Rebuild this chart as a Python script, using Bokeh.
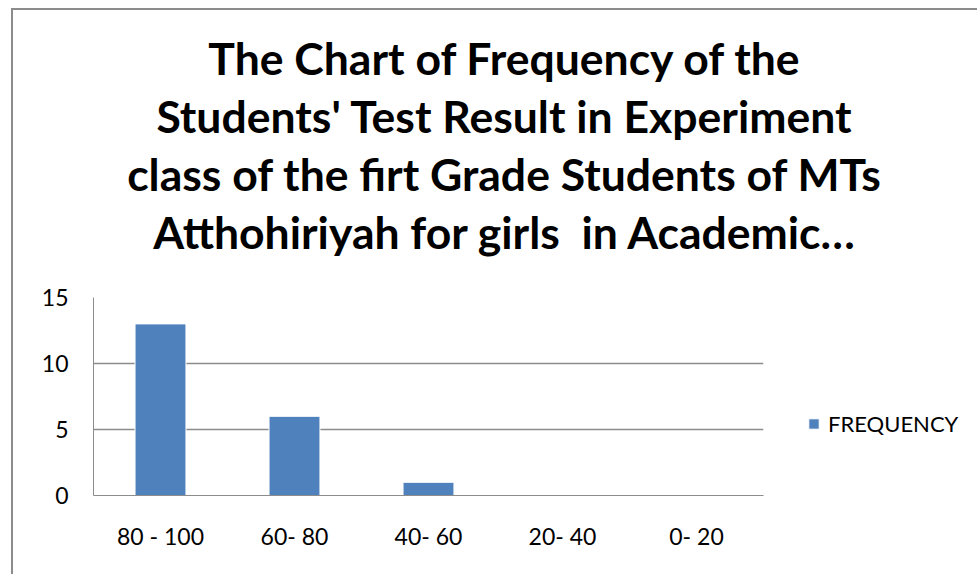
from bokeh.plotting import figure
from bokeh.models import ColumnDataSource, Legend, LegendItem, Div
from bokeh.layouts import column
from bokeh.embed import file_html
from bokeh.resources import INLINE

# ---- data ----
categories = ["80 - 100", "60- 80", "40- 60", "20- 40", "0- 20"]
frequency = [13, 6, 1, 0, 0]
y_ticks = [0, 5, 10, 15]
series_name = "FREQUENCY"
title_lines = [
    "The Chart of Frequency of the",
    "Students' Test Result in Experiment",
    "class of the firt Grade Students of MTs",
    "Atthohiriyah for girls &nbsp;in Academic\u2026",
]

BLUE = "#4F81BD"
GRID = "#8C8C8C"
FONT = "Lato"

W = 962
TITLE_H = 270

title_div = Div(
    text=(
        '<div style="position:relative; left:10px; width:962px; padding-top:19px; '
        'text-align:center; font-family:Lato; font-weight:bold; '
        'font-size:44.5px; line-height:58px; color:black; white-space:nowrap;">'
        + "<br>".join(title_lines) + "</div>"
    ),
    width=W, height=TITLE_H, margin=0,
)

p = figure(
    x_range=categories, y_range=(0, 15),
    frame_width=670, frame_height=198,
    output_backend="svg", toolbar_location=None,
    min_border_left=80, min_border_right=212,
    min_border_top=17, min_border_bottom=79,
    title=None, margin=0,
)
p.outline_line_color = None
p.background_fill_color = "white"
p.border_fill_color = "white"

src = ColumnDataSource(dict(cat=categories, freq=frequency))
bars = p.vbar(x="cat", top="freq", width=0.38, source=src,
              fill_color=BLUE, line_color="white", line_width=1)

# axes
p.xaxis.major_label_text_font = FONT
p.xaxis.major_label_text_font_size = "23px"
p.xaxis.major_label_text_color = "black"
p.xaxis.axis_line_color = GRID
p.xaxis.major_tick_line_color = None
p.xaxis.minor_tick_line_color = None
p.xaxis.major_label_standoff = 20

p.yaxis.ticker = y_ticks
p.yaxis.major_label_text_font = FONT
p.yaxis.major_label_text_font_size = "23px"
p.yaxis.major_label_text_color = "black"
p.yaxis.axis_line_color = GRID
p.yaxis.major_tick_line_color = None
p.yaxis.minor_tick_line_color = None
p.yaxis.major_label_standoff = 19

p.xgrid.grid_line_color = None
p.ygrid.grid_line_color = GRID
p.ygrid.grid_line_width = 1.5
p.ygrid.ticker = y_ticks

legend = Legend(
    items=[LegendItem(label=series_name, renderers=[bars])],
    location=(44, 58),
    label_text_font=FONT, label_text_font_size="22px", label_text_color="black",
    glyph_width=13, glyph_height=13, label_standoff=8,
    padding=0, margin=0, spacing=0, label_height=24,
    border_line_color=None, background_fill_alpha=0,
)
p.add_layout(legend, "right")

layout = column(title_div, p, spacing=0)
layout.styles = {
    "border-left": "2px solid #8C8C8C",
    "border-top": "2px solid #8C8C8C",
    "margin-left": "11px",
    "margin-top": "8px",
}

open("out.html", "w").write(file_html(layout, INLINE))
